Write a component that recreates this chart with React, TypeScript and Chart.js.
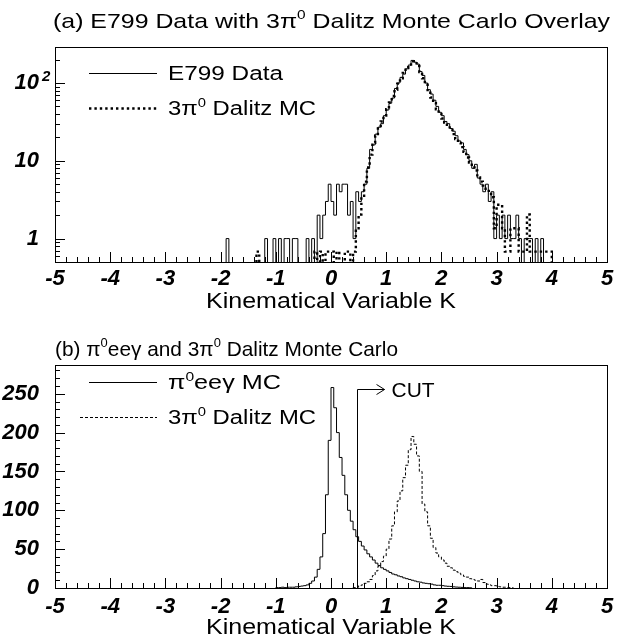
import React, { useEffect, useRef } from 'react';
import { Chart, registerables } from 'chart.js';

Chart.register(...registerables);

const BIN_WIDTH = 0.05;

// ---------- Panel (a): E799 data vs 3pi0 Dalitz MC (log scale) ----------
const e799Start = -2.0;
const e799Counts = [
  0, 0, 1, 0, 0, 0, 0, 0, 0, 0,
  0, 0, 0, 0, 0, 0, 1, 0, 0, 1,
  0, 1, 0, 1, 1, 0, 1, 1, 0, 0,
  0, 1, 0, 1, 0, 2, 1, 2, 3, 5,
  3, 2, 5, 4, 5, 5, 2, 3, 1, 4,
  3, 4, 5, 8, 14, 16, 22, 27, 30, 38,
  45, 55, 64, 85, 100, 118, 130, 152, 170, 195,
  185, 175, 140, 125, 100, 82, 72, 60, 50, 42,
  38, 32, 30, 26, 24, 21, 18, 17, 14, 12,
  10, 8, 9, 6, 5, 4, 5, 3, 4, 1,
  2, 1, 2, 1, 2, 1, 1, 2, 1, 0,
  1, 1, 1, 0, 1, 0, 1, 0, 0, 0,
];

const dalitzTopStart = -2.0;
const dalitzTopValues = [
  0, 0, 0, 0, 0, 0, 0, 0, 0, 0,
  0, 0, 0, 0.68, 0, 0, 0, 0, 0, 0,
  0, 0, 0, 0, 0, 0, 0, 0, 0, 0,
  0, 0, 0, 0, 0.68, 0, 0.68, 0, 0.68, 0.68,
  0.68, 0, 0.68, 0, 0, 0.68, 0.68, 0, 0.68, 1.36,
  2.04, 3.4, 5.4, 8.2, 12, 17, 21, 26, 32, 38,
  46, 56, 68, 82, 98, 115, 135, 155, 172, 190,
  180, 165, 138, 115, 95, 78, 65, 55, 46, 40,
  35, 31, 28, 25, 22, 19, 17, 15, 13, 11,
  9.5, 8.2, 7.5, 6.1, 5.4, 4.8, 4.1, 4.1, 3.4, 1.36,
  2.72, 2.72, 1.36, 0.68, 0.68, 1.36, 1.36, 1.36, 0.68, 0.68,
  0.68, 2.04, 0.68, 0.68, 0.68, 0.68, 0.68, 0.68, 0.68, 0.68,
];

// ---------- Panel (b): pi0 ee gamma MC and 3pi0 Dalitz MC (linear) ----------
const pi0eegStart = -1.0;
const pi0eegValues = [
  0.5, 0.5, 1, 0.5, 1, 1, 1, 1.5, 2, 2.5,
  3, 4, 6, 9, 14, 24, 40, 70, 120, 190,
  258, 232, 200, 168, 145, 120, 100, 86, 75, 66,
  60, 54, 49, 44, 40, 36, 32, 29, 26, 24,
  22, 20, 18, 17, 15.5, 14.5, 13, 12, 11, 10,
  9, 8, 7.5, 6.5, 6, 5.5, 5, 4, 3.5, 3.5,
  3, 2.5, 2.2, 2, 1.5, 1.2, 1, 0.8, 0.5, 0.5,
  0.3,
];

const dalitzBottomStart = 0.4;
const dalitzBottomValues = [
  0.5, 1, 3, 4, 6, 8, 11, 16, 22, 28,
  34, 41, 50, 63, 80, 98, 112, 125, 142, 158,
  178, 195, 185, 170, 150, 108, 98, 80, 64, 52,
  45, 40, 36, 32, 28, 26, 23, 21, 19, 17,
  15, 14, 12, 11, 10, 9, 11, 7, 5, 4,
  3, 3, 2, 1.5, 1, 1, 0.5, 0.5,
];

// ---------- Axes ----------
const xMin = -5;
const xMax = 5;
const xTicks = Array.from({ length: 51 }, (_, i) => Math.round((xMin + i * 0.2) * 10) / 10);
const xTickLabels = ['-5', '-4', '-3', '-2', '-1', '0', '1', '2', '3', '4', '5'];

const logMin = 0.5;
const logMax = 290;
const logLabelValues = [1, 10, 100];
const logLabelTexts = ['1', '10', '10'];
const logLabelSup = ['', '', '2'];

const linMin = 0;
const linMax = 287;
const linTicks = Array.from({ length: 29 }, (_, i) => i * 10);
const linLabelValues = [0, 50, 100, 150, 200, 250];

const cutK = 0.47;
const cutArrowY = 256;
const cutArrowLenK = 0.5;

const FAMILY = '"Liberation Sans", Arial, Helvetica, sans-serif';
const TICK_FONT = { family: FAMILY, size: 22, style: 'italic', weight: 'bold' };

type Part = { t: string; sup?: boolean };

function histPoints(start: number, values: number[], floor: number) {
  const pts: { x: number; y: number }[] = [{ x: start, y: floor }];
  values.forEach((v, i) => {
    pts.push({ x: +(start + i * BIN_WIDTH).toFixed(4), y: v > 0 ? v : floor });
  });
  pts.push({ x: +(start + values.length * BIN_WIDTH).toFixed(4), y: floor });
  return pts;
}

function drawParts(
  ctx: CanvasRenderingContext2D,
  parts: Part[],
  x: number,
  baseline: number,
  size: number,
  targetWidth: number | null,
  align: 'left' | 'center' = 'left',
  italic = false
) {
  const supSize = size * 0.62;
  const f = (s: number) => `${italic ? 'italic ' : ''}${s}px ${FAMILY}`;
  let w = 0;
  const widths = parts.map((p) => {
    ctx.font = f(p.sup ? supSize : size);
    const m = ctx.measureText(p.t).width;
    w += m;
    return m;
  });
  const sx = targetWidth ? targetWidth / w : 1;
  ctx.save();
  ctx.translate(x, baseline);
  ctx.scale(sx, 1);
  ctx.textBaseline = 'alphabetic';
  ctx.textAlign = 'left';
  ctx.fillStyle = '#000';
  let cx = align === 'center' ? -w / 2 : 0;
  parts.forEach((p, i) => {
    ctx.font = f(p.sup ? supSize : size);
    ctx.fillText(p.t, cx, p.sup ? -size * 0.42 : 0);
    cx += widths[i];
  });
  ctx.restore();
}

interface LegendItem {
  parts: Part[];
  y: number;
  x0: number;
  x1: number;
  dash: number[];
  lw: number;
  textWidth: number;
}

interface Deco {
  title: Part[];
  titleX: number;
  titleBaseline: number;
  titleWidth: number;
  legend: LegendItem[];
  xTitleBaseline: number;
  yIsMajor: (v: number) => boolean;
  extra?: (chart: any) => void;
}

function makeDecoPlugin(d: Deco) {
  return {
    id: 'pawDeco',
    afterDraw(chart: any) {
      const ctx: CanvasRenderingContext2D = chart.ctx;
      const { left, right, top, bottom } = chart.chartArea;
      const xs = chart.scales.x;
      const ys = chart.scales.y;
      ctx.save();
      ctx.strokeStyle = '#000';
      ctx.lineWidth = 1;
      ctx.setLineDash([]);
      // frame
      ctx.strokeRect(Math.round(left) + 0.5, Math.round(top) + 0.5, Math.round(right - left), Math.round(bottom - top));
      // x ticks (inside)
      ctx.beginPath();
      xs.ticks.forEach((t: any) => {
        const px = Math.round(xs.getPixelForValue(t.value)) + 0.5;
        const major = Math.abs(t.value - Math.round(t.value)) < 1e-6;
        const len = major ? 10 : 5;
        ctx.moveTo(px, bottom);
        ctx.lineTo(px, bottom - len);
      });
      // y ticks (inside)
      ys.ticks.forEach((t: any) => {
        const py = Math.round(ys.getPixelForValue(t.value)) + 0.5;
        const len = d.yIsMajor(t.value) ? 10 : 5;
        ctx.moveTo(left, py);
        ctx.lineTo(left + len, py);
      });
      ctx.stroke();

      // superscripts on y labels
      logLabelValues.forEach((v, i) => {
        if (!logLabelSup[i] || ys.type !== 'logarithmic') return;
        const py = ys.getPixelForValue(v);
        ctx.font = `italic bold 15px ${FAMILY}`;
        ctx.fillStyle = '#000';
        ctx.textAlign = 'left';
        ctx.textBaseline = 'alphabetic';
        ctx.fillText(logLabelSup[i], left - 13, py - 2);
      });

      // title
      drawParts(ctx, d.title, d.titleX, d.titleBaseline, 21, d.titleWidth);

      // legend
      d.legend.forEach((it) => {
        ctx.save();
        ctx.beginPath();
        ctx.setLineDash(it.dash);
        ctx.lineWidth = it.lw;
        ctx.moveTo(it.x0, it.y + 0.5);
        ctx.lineTo(it.x1, it.y + 0.5);
        ctx.stroke();
        ctx.restore();
        drawParts(ctx, it.parts, 168, it.y + 7, 20, it.textWidth);
      });

      // x axis title
      drawParts(ctx, [{ t: 'Kinematical Variable K' }], (left + right) / 2, d.xTitleBaseline, 22, 250, 'center');

      if (d.extra) d.extra(chart);
      ctx.restore();
    },
  };
}

function xScaleOpts(height: number, padding: number) {
  return {
    type: 'linear',
    min: xMin,
    max: xMax,
    afterBuildTicks: (s: any) => {
      s.ticks = xTicks.map((v) => ({ value: v }));
    },
    afterFit: (s: any) => {
      s.height = height;
    },
    grid: { display: false, drawTicks: false },
    border: { display: false },
    ticks: {
      autoSkip: false,
      maxRotation: 0,
      minRotation: 0,
      padding,
      color: '#000',
      font: TICK_FONT,
      callback: (v: number) => {
        const r = Math.round(v);
        if (Math.abs(v - r) > 1e-6) return '';
        return xTickLabels[r - xMin] ?? '';
      },
    },
  };
}

export default function App() {
  const topRef = useRef<HTMLCanvasElement>(null);
  const botRef = useRef<HTMLCanvasElement>(null);

  useEffect(() => {
    const logTicks: number[] = [];
    [0.1, 1, 10, 100].forEach((dec) => {
      for (let m = 1; m <= 9; m++) {
        const v = +(m * dec).toPrecision(3);
        if (v >= logMin && v <= logMax) logTicks.push(v);
      }
    });

    const top = new Chart(topRef.current as HTMLCanvasElement, {
      type: 'line',
      data: {
        datasets: [
          {
            data: histPoints(e799Start, e799Counts, 0.05),
            stepped: 'before',
            borderColor: '#000',
            borderWidth: 1,
            pointRadius: 0,
            fill: false,
          },
          {
            data: histPoints(dalitzTopStart, dalitzTopValues, 0.05),
            stepped: 'before',
            borderColor: '#000',
            borderWidth: 2.4,
            borderDash: [2.4, 3],
            pointRadius: 0,
            fill: false,
          },
        ],
      } as any,
      options: {
        animation: false,
        responsive: false,
        devicePixelRatio: 1,
        events: [],
        layout: { padding: { left: 0, right: 17, top: 47, bottom: 0 } },
        plugins: { legend: { display: false }, tooltip: { enabled: false }, title: { display: false } },
        scales: {
          x: xScaleOpts(60, 4),
          y: {
            type: 'logarithmic',
            min: logMin,
            max: logMax,
            afterBuildTicks: (s: any) => {
              s.ticks = logTicks.map((v) => ({ value: v }));
            },
            afterFit: (s: any) => {
              s.width = 55;
            },
            grid: { display: false, drawTicks: false },
            border: { display: false },
            ticks: {
              autoSkip: false,
              padding: 16,
              color: '#000',
              font: TICK_FONT,
              callback: (v: number) => {
                const i = logLabelValues.findIndex((x) => Math.abs(x - v) < 1e-9);
                return i >= 0 ? logLabelTexts[i] : '';
              },
            },
          },
        },
      } as any,
      plugins: [
        makeDecoPlugin({
          title: [{ t: '(a) E799 Data with 3π' }, { t: '0', sup: true }, { t: ' Dalitz Monte Carlo Overlay' }],
          titleX: 53,
          titleBaseline: 28,
          titleWidth: 557,
          legend: [
            { parts: [{ t: 'E799 Data' }], y: 73, x0: 89, x1: 157, dash: [], lw: 1, textWidth: 115 },
            {
              parts: [{ t: '3π' }, { t: '0', sup: true }, { t: ' Dalitz MC' }],
              y: 108,
              x0: 89,
              x1: 157,
              dash: [2.4, 3],
              lw: 2.4,
              textWidth: 148,
            },
          ],
          xTitleBaseline: 308,
          yIsMajor: (v) => logLabelValues.some((x) => Math.abs(x - v) < 1e-9),
        }),
      ],
    } as any);

    const bot = new Chart(botRef.current as HTMLCanvasElement, {
      type: 'line',
      data: {
        datasets: [
          {
            data: histPoints(pi0eegStart, pi0eegValues, 0),
            stepped: 'before',
            borderColor: '#000',
            borderWidth: 1,
            pointRadius: 0,
            fill: false,
          },
          {
            data: histPoints(dalitzBottomStart, dalitzBottomValues, 0),
            stepped: 'before',
            borderColor: '#000',
            borderWidth: 1,
            borderDash: [3, 2],
            pointRadius: 0,
            fill: false,
          },
        ],
      } as any,
      options: {
        animation: false,
        responsive: false,
        devicePixelRatio: 1,
        events: [],
        layout: { padding: { left: 0, right: 17, top: 43, bottom: 0 } },
        plugins: { legend: { display: false }, tooltip: { enabled: false }, title: { display: false } },
        scales: {
          x: xScaleOpts(49, 6),
          y: {
            type: 'linear',
            min: linMin,
            max: linMax,
            afterBuildTicks: (s: any) => {
              s.ticks = linTicks.map((v) => ({ value: v }));
            },
            afterFit: (s: any) => {
              s.width = 55;
            },
            grid: { display: false, drawTicks: false },
            border: { display: false },
            ticks: {
              autoSkip: false,
              padding: 16,
              color: '#000',
              font: TICK_FONT,
              callback: (v: number) => (linLabelValues.includes(v) ? String(v) : ''),
            },
          },
        },
      } as any,
      plugins: [
        makeDecoPlugin({
          title: [
            { t: '(b) π' },
            { t: '0', sup: true },
            { t: 'eeγ and 3π' },
            { t: '0', sup: true },
            { t: ' Dalitz Monte Carlo' },
          ],
          titleX: 55,
          titleBaseline: 34,
          titleWidth: 343,
          legend: [
            {
              parts: [{ t: 'π' }, { t: '0', sup: true }, { t: 'eeγ MC' }],
              y: 60,
              x0: 89,
              x1: 157,
              dash: [],
              lw: 1,
              textWidth: 113,
            },
            {
              parts: [{ t: '3π' }, { t: '0', sup: true }, { t: ' Dalitz MC' }],
              y: 95,
              x0: 80,
              x1: 157,
              dash: [3, 2],
              lw: 1,
              textWidth: 148,
            },
          ],
          xTitleBaseline: 312,
          yIsMajor: (v) => v % 50 === 0,
          extra: (chart: any) => {
            const ctx: CanvasRenderingContext2D = chart.ctx;
            const xs = chart.scales.x;
            const ys = chart.scales.y;
            const cx = Math.round(xs.getPixelForValue(cutK)) + 0.5;
            const cy = Math.round(ys.getPixelForValue(cutArrowY)) + 0.5;
            const y0 = ys.getPixelForValue(0);
            const ex = xs.getPixelForValue(cutK + cutArrowLenK);
            ctx.save();
            ctx.strokeStyle = '#000';
            ctx.lineWidth = 1;
            ctx.setLineDash([]);
            ctx.beginPath();
            ctx.moveTo(cx, y0);
            ctx.lineTo(cx, cy);
            ctx.lineTo(ex, cy);
            ctx.moveTo(ex - 8, cy - 5);
            ctx.lineTo(ex, cy);
            ctx.lineTo(ex - 8, cy + 5);
            ctx.stroke();
            ctx.restore();
            drawParts(ctx, [{ t: 'CUT' }], ex + 7, cy + 7, 20, 43);
          },
        }),
      ],
    } as any);

    return () => {
      top.destroy();
      bot.destroy();
    };
  }, []);

  return (
    <div style={{ position: 'absolute', left: 0, top: 0, width: 624, height: 637, background: '#fff' }}>
      <canvas ref={topRef} width={624} height={322} style={{ display: 'block' }} />
      <canvas ref={botRef} width={624} height={315} style={{ display: 'block' }} />
    </div>
  );
}
